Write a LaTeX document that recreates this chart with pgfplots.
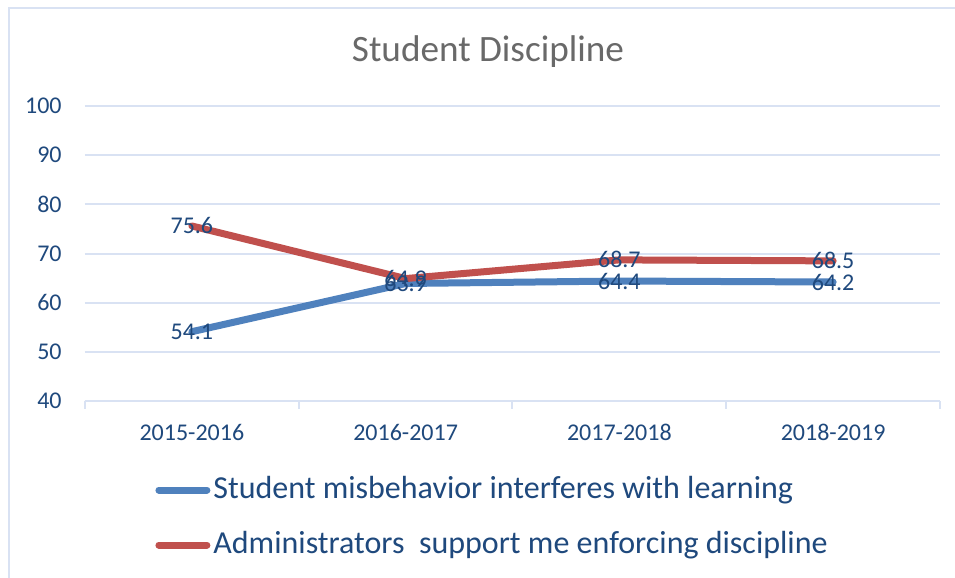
\documentclass[border=0pt]{standalone}
\usepackage{fontspec}
\setmainfont{Carlito}
\usepackage{pgfplots}
\pgfplotsset{compat=1.18}
\definecolor{sblue}{RGB}{79,129,189}
\definecolor{sred}{RGB}{192,80,77}
\definecolor{navy}{RGB}{31,73,125}
\definecolor{gridc}{RGB}{217,226,243}
\definecolor{titlec}{RGB}{105,105,105}
\begin{document}
\begin{tikzpicture}
\useasboundingbox (0,0) rectangle (477.5pt,289pt);
\fill[white] (0,0) rectangle (477.5pt,289pt);
\draw[gridc, line width=1pt] (4.5pt,0) -- (4.5pt,285pt) -- (477.5pt,285pt);
\node[anchor=base, text=titlec, font=\fontsize{18.6}{21}\selectfont] at (244pt,258pt) {Student Discipline};
\begin{axis}[
  at={(42.5pt,88.5pt)}, anchor=south west,
  scale only axis, width=427.5pt, height=147.5pt,
  xmin=-0.5, xmax=3.5, ymin=40, ymax=100,
  xtick={0,1,2,3},
  xticklabels={2015-2016,2016-2017,2017-2018,2018-2019},
  minor xtick={-0.5,0.5,1.5,2.5,3.5},
  ytick={40,50,...,100},
  major tick length=0pt, minor tick length=4pt, tick align=outside,
  minor x tick style={draw=gridc, line width=1pt},
  ymajorgrids, grid style={draw=gridc, line width=1pt},
  axis x line*=bottom, axis y line*=left,
  y axis line style={draw=none},
  x axis line style={draw=gridc, line width=1pt},
  /pgf/number format/assume math mode=true,
  xticklabel style={font=\fontsize{12}{14}\selectfont, text=navy, anchor=center, inner sep=0pt, yshift=-15.5pt},
  yticklabel style={font=\fontsize{12}{14}\selectfont, text=navy, anchor=east, inner sep=0pt, xshift=-11.5pt},
  clip=false,
  legend style={at={(axis description cs:0.0819,-0.395)}, anchor=west, draw=none, fill=none,
    font=\fontsize{16}{19}\selectfont, text=navy, row sep=11.5pt, column sep=1.5pt, inner sep=0pt,
    nodes={inner sep=0pt, text height=12pt, text depth=4pt}},
  legend cell align=left,
  legend image code/.code={\draw[line width=3.5pt, line cap=round, #1] (1.75pt,0pt) -- (25.75pt,0pt);},
]
\addplot[sblue, line width=3.5pt, line cap=round, line join=round] coordinates {(0,54.1) (1,63.9) (2,64.4) (3,64.2)};
\addlegendentry{Student misbehavior interferes with learning}
\addplot[sred, line width=3.5pt, line cap=round, line join=round] coordinates {(0,75.6) (1,64.9) (2,68.7) (3,68.5)};
\addlegendentry{Administrators\ \ support me enforcing discipline}
\addplot[draw=none, forget plot, nodes near coords, point meta=explicit,
  every node near coord/.append style={anchor=center, font=\fontsize{12}{14}\selectfont, text=navy,
    /pgf/number format/.cd, fixed, precision=1, fixed zerofill, assume math mode=true}]
  coordinates {(0,54.1) [54.1] (1,63.9) [63.9] (2,64.4) [64.4] (3,64.2) [64.2]};
\addplot[draw=none, forget plot, nodes near coords, point meta=explicit,
  every node near coord/.append style={anchor=center, font=\fontsize{12}{14}\selectfont, text=navy,
    /pgf/number format/.cd, fixed, precision=1, fixed zerofill, assume math mode=true}]
  coordinates {(0,75.6) [75.6] (1,64.9) [64.9] (2,68.7) [68.7] (3,68.5) [68.5]};
\end{axis}
\end{tikzpicture}
\end{document}
